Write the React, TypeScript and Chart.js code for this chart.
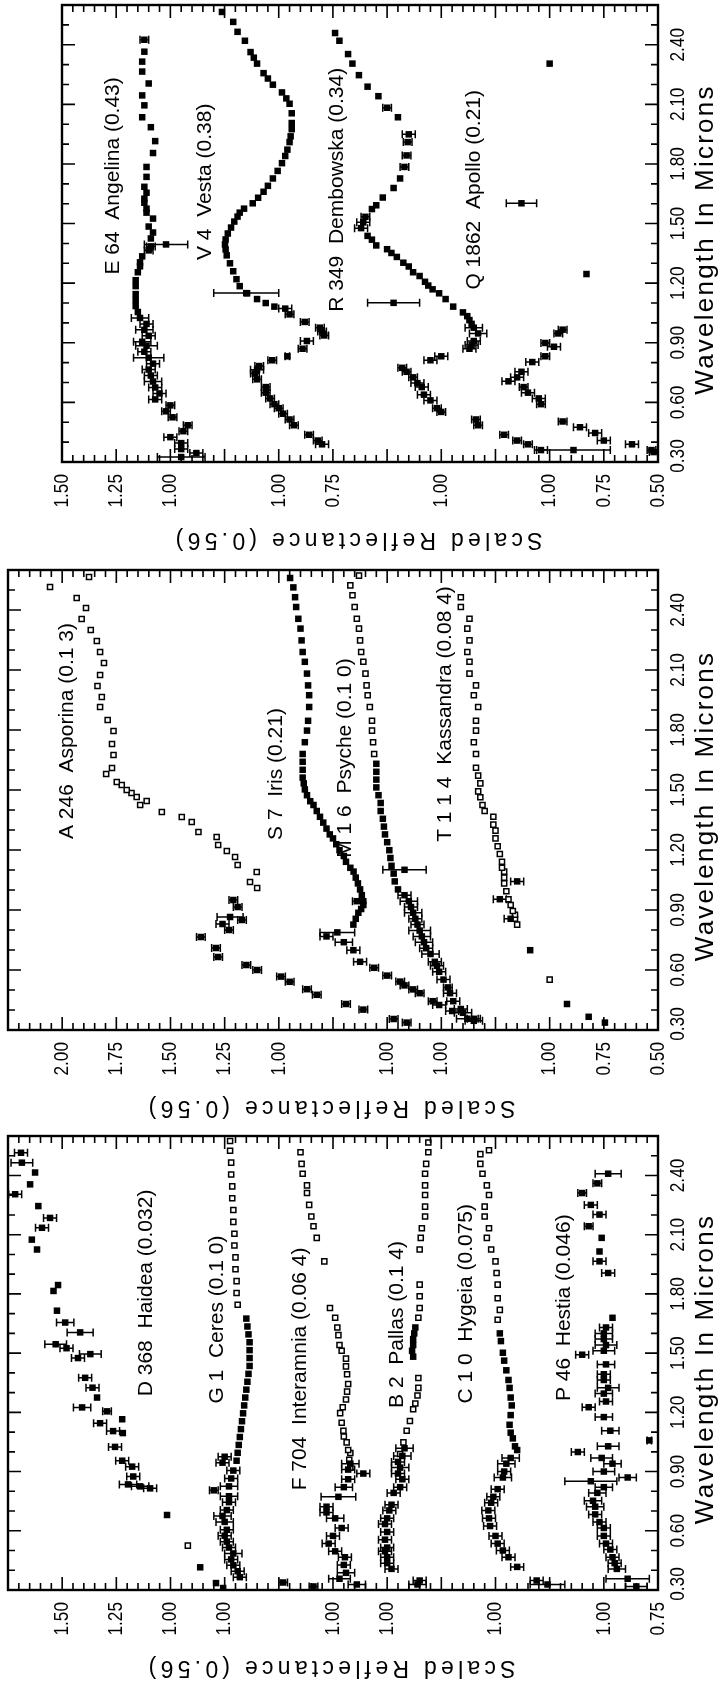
import React, { useEffect, useRef } from "react";
import { Chart, registerables } from "chart.js";

Chart.register(...registerables);

// [wavelength (microns), scaled reflectance, error half-width]
type Pt = number[];

// ---------- axis ticks / labels ----------
const wavelengthTickValues = [0.3, 0.6, 0.9, 1.2, 1.5, 1.8, 2.1, 2.4];
const wavelengthTickLabels = ["0.30", "0.60", "0.90", "1.20", "1.50", "1.80", "2.10", "2.40"];

const panel1TickValues = [0.5, 0.75, 1.0, 1.5, 2.0, 2.25, 2.75, 3.0, 3.25];
const panel1TickLabels = ["0.50", "0.75", "1.00", "1.00", "0.75", "1.00", "1.00", "1.25", "1.50"];
const panel2TickValues = [0.5, 0.75, 1.0, 1.5, 1.75, 2.25, 2.5, 2.75, 3.0, 3.25];
const panel2TickLabels = ["0.50", "0.75", "1.00", "1.00", "1.00", "1.00", "1.25", "1.50", "1.75", "2.00"];
const panel3TickValues = [0.75, 1.0, 1.5, 2.0, 2.25, 2.75, 3.0, 3.25, 3.5];
const panel3TickLabels = ["0.75", "1.00", "1.00", "1.00", "1.00", "1.00", "1.00", "1.25", "1.50"];

// ---------- panel 1 ----------
const angelinaVis: Pt[] = [
  [0.325, 0.95, 0.11], [0.345, 0.88, 0.03], [0.365, 0.95, 0.03], [0.395, 0.95, 0.03], [0.425, 1.00, 0.03],
  [0.455, 0.94, 0.02], [0.485, 0.92, 0.02], [0.525, 0.99, 0.02], [0.555, 1.02, 0.02], [0.585, 1.00, 0.02],
  [0.615, 1.07, 0.03], [0.645, 1.05, 0.03], [0.675, 1.07, 0.03], [0.705, 1.08, 0.04], [0.735, 1.09, 0.03],
  [0.765, 1.10, 0.03], [0.795, 1.08, 0.03], [0.825, 1.10, 0.07], [0.855, 1.12, 0.03], [0.885, 1.11, 0.05],
  [0.905, 1.13, 0.04], [0.935, 1.10, 0.03], [0.965, 1.12, 0.04], [0.995, 1.11, 0.03], [1.025, 1.14, 0.04],
];
const angelinaIr: Pt[] = [
  [1.055, 1.15], [1.085, 1.16], [1.115, 1.16], [1.145, 1.16], [1.185, 1.16], [1.215, 1.16], [1.255, 1.15],
  [1.285, 1.14], [1.305, 1.14], [1.335, 1.13], [1.365, 1.10, 0.02], [1.385, 1.09, 0.02], [1.395, 1.02, 0.1],
  [1.425, 1.09], [1.455, 1.08], [1.485, 1.10], [1.525, 1.08], [1.555, 1.11], [1.575, 1.11], [1.605, 1.12],
  [1.625, 1.12], [1.655, 1.11], [1.685, 1.12], [1.735, 1.11], [1.785, 1.11], [1.855, 1.08], [1.915, 1.07],
  [1.985, 1.09], [2.035, 1.13], [2.095, 1.12], [2.145, 1.13], [2.205, 1.10], [2.265, 1.13], [2.315, 1.13],
  [2.365, 1.12], [2.425, 1.12, 0.02],
];
const vestaVis: Pt[] = [
  [0.389, 0.80, 0.03], [0.408, 0.82, 0.02], [0.437, 0.86, 0.02], [0.485, 0.93, 0.02], [0.514, 0.95, 0.02],
  [0.543, 0.98, 0.02], [0.571, 1.00, 0.02], [0.591, 1.02, 0.02], [0.620, 1.04, 0.02], [0.649, 1.06, 0.02],
  [0.677, 1.06, 0.02], [0.716, 1.10, 0.02], [0.745, 1.11, 0.02], [0.764, 1.10, 0.03], [0.783, 1.09, 0.02],
  [0.812, 1.03, 0.02], [0.832, 0.96, 0.01], [0.870, 0.89, 0.02], [0.909, 0.87, 0.03], [0.937, 0.79, 0.02],
  [0.957, 0.80, 0.02], [0.976, 0.81, 0.02], [1.005, 0.88, 0.02], [1.043, 0.95, 0.02], [1.072, 0.97, 0.03],
  [1.15, 1.15, 0.15],
];
const vestaIr: Pt[] = [
  [1.082, 1.02], [1.10, 1.06], [1.12, 1.10], [1.149, 1.146], [1.185, 1.18], [1.22, 1.195], [1.26, 1.21],
  [1.30, 1.225], [1.34, 1.24], [1.37, 1.245], [1.395, 1.248], [1.42, 1.245], [1.45, 1.235], [1.48, 1.22],
  [1.51, 1.205], [1.535, 1.19], [1.555, 1.18], [1.575, 1.16], [1.602, 1.12], [1.63, 1.095], [1.66, 1.07],
  [1.69, 1.05], [1.727, 1.027], [1.765, 1.005], [1.804, 0.985], [1.84, 0.97], [1.872, 0.96], [1.91, 0.95],
  [1.939, 0.945], [1.975, 0.94], [2.006, 0.94], [2.055, 0.94], [2.103, 0.95], [2.13, 0.965], [2.16, 0.985],
  [2.199, 1.027], [2.23, 1.05], [2.257, 1.07], [2.305, 1.10], [2.335, 1.115], [2.363, 1.13], [2.42, 1.156],
  [2.465, 1.19], [2.515, 1.21], [2.565, 1.262],
];
const dembowskaVis: Pt[] = [
  [0.36, 0.54, 0.03], [0.389, 0.60, 0.02], [0.408, 0.65, 0.02], [0.437, 0.71, 0.02], [0.485, 0.83, 0.02],
  [0.514, 0.84, 0.02], [0.552, 1.00, 0.02], [0.571, 1.02, 0.02], [0.61, 1.05, 0.03], [0.639, 1.08, 0.03],
  [0.677, 1.09, 0.03], [0.697, 1.11, 0.03], [0.726, 1.13, 0.02], [0.754, 1.16, 0.02], [0.774, 1.18, 0.02],
  [0.812, 1.05, 0.03], [0.832, 1.00, 0.03], [0.870, 0.87, 0.03], [0.889, 0.86, 0.03], [0.909, 0.85, 0.03],
  [0.947, 0.83, 0.04], [0.976, 0.85, 0.04],
];
const dembowskaIr: Pt[] = [
  [0.995, 0.86], [1.014, 0.87], [1.034, 0.88], [1.053, 0.90], [1.082, 0.945], [1.101, 1.22, 0.12], [1.12, 0.98],
  [1.149, 1.01], [1.169, 1.04], [1.188, 1.06], [1.207, 1.075], [1.236, 1.10], [1.255, 1.13], [1.284, 1.15],
  [1.303, 1.175], [1.332, 1.205], [1.352, 1.23], [1.371, 1.25], [1.39, 1.30], [1.419, 1.32], [1.438, 1.34],
  [1.477, 1.37, 0.03], [1.506, 1.36, 0.03], [1.534, 1.35, 0.02], [1.573, 1.32], [1.592, 1.30], [1.631, 1.27],
  [1.679, 1.22], [1.727, 1.19], [1.785, 1.17, 0.02], [1.843, 1.16, 0.02], [1.91, 1.155, 0.02], [1.949, 1.15, 0.03],
  [2.035, 1.20], [2.083, 1.25, 0.02], [2.141, 1.29], [2.189, 1.34], [2.247, 1.38], [2.305, 1.41], [2.353, 1.43],
  [2.42, 1.47], [2.459, 1.49],
];
const apolloVis: Pt[] = [
  [0.35, 0.52, 0.02], [0.36, 0.53, 0.02], [0.36, 0.89, 0.17], [0.389, 0.62, 0.03], [0.408, 0.75, 0.03],
  [0.446, 0.79, 0.03], [0.475, 0.86, 0.03], [0.504, 0.94, 0.02], [0.591, 1.04, 0.02], [0.62, 1.05, 0.03],
  [0.649, 1.10, 0.03], [0.677, 1.12, 0.02], [0.706, 1.19, 0.03], [0.726, 1.15, 0.03], [0.754, 1.13, 0.03],
  [0.803, 1.08, 0.03], [0.832, 1.02, 0.02], [0.88, 0.98, 0.03], [0.899, 1.02, 0.02], [0.947, 0.96, 0.02],
  [0.966, 0.94, 0.02],
];
const apolloIr: Pt[] = [[1.246, 0.83], [1.602, 1.13, 0.07], [2.305, 1.00]];

// ---------- panel 2 ----------
const asporinaVis: Pt[] = [
  [0.337, 0.41, 0.02], [0.355, 0.47, 0.02], [0.402, 0.61, 0.02], [0.43, 0.69, 0.02], [0.476, 0.825, 0.02],
  [0.504, 0.87, 0.02], [0.541, 0.95, 0.02], [0.567, 0.99, 0.02], [0.60, 1.10, 0.02], [0.625, 1.15, 0.02],
  [0.665, 1.28, 0.02], [0.71, 1.29, 0.02], [0.765, 1.36, 0.02], [0.80, 1.23, 0.02], [0.83, 1.26, 0.03],
  [0.85, 1.17, 0.02], [0.865, 1.225, 0.06], [0.915, 1.19, 0.02], [0.95, 1.21, 0.02],
];
const asporinaIr: Pt[] = [
  [1.01, 1.10], [1.04, 1.133], [1.09, 1.102], [1.125, 1.19], [1.165, 1.202], [1.195, 1.24], [1.225, 1.28],
  [1.265, 1.287], [1.29, 1.371], [1.34, 1.402], [1.365, 1.448], [1.39, 1.54], [1.425, 1.64], [1.445, 1.61],
  [1.465, 1.656], [1.485, 1.68], [1.50, 1.702], [1.525, 1.725], [1.54, 1.748], [1.58, 1.797], [1.61, 1.77],
  [1.675, 1.763], [1.73, 1.77], [1.795, 1.763], [1.85, 1.79], [1.915, 1.825], [1.965, 1.817], [2.02, 1.837],
  [2.075, 1.825], [2.135, 1.807], [2.19, 1.825], [2.245, 1.84], [2.30, 1.868], [2.355, 1.91], [2.41, 1.89],
  [2.46, 1.933], [2.515, 2.056], [2.565, 1.876],
];
const irisVis: Pt[] = [
  [0.356, 0.60, 0.03], [0.395, 0.70, 0.03], [0.425, 0.76, 0.03], [0.444, 0.79, 0.02], [0.484, 0.85, 0.02],
  [0.503, 0.88, 0.02], [0.523, 0.92, 0.02], [0.542, 0.94, 0.02], [0.572, 1.00, 0.02], [0.611, 1.06, 0.02],
  [0.641, 1.125, 0.03], [0.699, 1.156, 0.03], [0.739, 1.20, 0.04], [0.768, 1.28, 0.03], [0.788, 1.23, 0.08],
  [0.944, 1.14, 0.02],
];
const irisIr: Pt[] = [
  [0.827, 1.156], [0.856, 1.145], [0.886, 1.133], [0.905, 1.12], [0.925, 1.11], [0.944, 1.11], [0.974, 1.117],
  [1.003, 1.125], [1.033, 1.135], [1.062, 1.145], [1.092, 1.155], [1.111, 1.17], [1.141, 1.19], [1.17, 1.20],
  [1.199, 1.22], [1.229, 1.235], [1.258, 1.25], [1.278, 1.265], [1.307, 1.28], [1.337, 1.295], [1.366, 1.31],
  [1.395, 1.325], [1.425, 1.34], [1.444, 1.355], [1.474, 1.37], [1.503, 1.38], [1.533, 1.385], [1.562, 1.39],
  [1.601, 1.39], [1.641, 1.39], [1.68, 1.39], [1.739, 1.38], [1.797, 1.37], [1.846, 1.365], [1.915, 1.36],
  [1.974, 1.36], [2.023, 1.365], [2.082, 1.37], [2.141, 1.38], [2.19, 1.39], [2.248, 1.395], [2.307, 1.40],
  [2.356, 1.41], [2.415, 1.42], [2.464, 1.425], [2.513, 1.433], [2.56, 1.448],
];
const psycheVis: Pt[] = [
  [0.346, 0.85, 0.04], [0.356, 0.88, 0.05], [0.386, 0.90, 0.04], [0.405, 0.91, 0.03], [0.444, 0.945, 0.03],
  [0.484, 0.96, 0.03], [0.513, 0.97, 0.02], [0.552, 0.99, 0.03], [0.591, 1.01, 0.03], [0.621, 1.02, 0.03],
  [0.641, 1.03, 0.03], [0.68, 1.05, 0.04], [0.709, 1.07, 0.03], [0.739, 1.08, 0.04], [0.768, 1.09, 0.04],
  [0.797, 1.10, 0.05], [0.827, 1.11, 0.03], [0.856, 1.12, 0.03], [0.886, 1.13, 0.04], [0.915, 1.14, 0.03],
  [0.944, 1.15, 0.04], [0.974, 1.17, 0.03], [1.101, 1.17, 0.1],
];
const psycheIrFilled: Pt[] = [
  [1.003, 1.20], [1.043, 1.215], [1.082, 1.22], [1.121, 1.23], [1.16, 1.235], [1.199, 1.24], [1.239, 1.25],
  [1.278, 1.26], [1.317, 1.265], [1.356, 1.27], [1.395, 1.28], [1.435, 1.28], [1.474, 1.29], [1.513, 1.30],
  [1.552, 1.30], [1.591, 1.30], [1.631, 1.30],
];
const psycheIrOpen: Pt[] = [
  [1.68, 1.31], [1.739, 1.315], [1.797, 1.32], [1.846, 1.32], [1.915, 1.33], [1.974, 1.34], [2.023, 1.345],
  [2.082, 1.35], [2.141, 1.36], [2.19, 1.37], [2.248, 1.375], [2.307, 1.38], [2.356, 1.39], [2.415, 1.40],
  [2.474, 1.41], [2.523, 1.42], [2.572, 1.38],
];
const kassandraVis: Pt[] = [
  [0.337, 0.745], [0.366, 0.82], [0.43, 0.92], [0.699, 1.09], [0.856, 1.18, 0.03], [0.954, 1.23, 0.03],
  [1.043, 1.15, 0.03],
];
const kassandraIrOpen: Pt[] = [
  [0.552, 1.00], [0.827, 1.15], [0.856, 1.16], [0.876, 1.16], [0.895, 1.17], [0.925, 1.18], [0.954, 1.19],
  [0.994, 1.20], [1.033, 1.21], [1.062, 1.21], [1.092, 1.21], [1.111, 1.22], [1.141, 1.22], [1.18, 1.23],
  [1.219, 1.24], [1.258, 1.25], [1.297, 1.25], [1.327, 1.26], [1.366, 1.26], [1.395, 1.30], [1.425, 1.31],
  [1.464, 1.32], [1.493, 1.33], [1.533, 1.32], [1.572, 1.33], [1.611, 1.34], [1.68, 1.34], [1.739, 1.35],
  [1.797, 1.34], [1.846, 1.34], [1.915, 1.33], [1.974, 1.35], [2.023, 1.34], [2.082, 1.37], [2.141, 1.37],
  [2.19, 1.38], [2.248, 1.37], [2.307, 1.38], [2.356, 1.37], [2.415, 1.41], [2.464, 1.41],
];

// ---------- panel 3 ----------
const haideaPts: Pt[] = [
  [0.31, 0.757], [0.335, 0.79], [0.415, 0.863], [0.68, 1.016], [0.815, 1.094, 0.03], [0.825, 1.14, 0.04],
  [0.835, 1.196, 0.04], [0.875, 1.172, 0.03], [0.925, 1.177, 0.03], [0.955, 1.223, 0.03], [1.025, 1.256, 0.03],
  [1.095, 1.22], [1.105, 1.265, 0.03], [1.145, 1.325, 0.03], [1.165, 1.223], [1.205, 1.293, 0.02],
  [1.225, 1.408, 0.04], [1.275, 1.339], [1.325, 1.36, 0.03], [1.375, 1.394, 0.03], [1.475, 1.427, 0.03],
  [1.495, 1.37, 0.05], [1.525, 1.48, 0.03], [1.545, 1.53, 0.05], [1.605, 1.417, 0.06], [1.655, 1.486, 0.04],
  [1.715, 1.524], [1.815, 1.54], [1.845, 1.519], [2.025, 1.616], [2.075, 1.64], [2.135, 1.593, 0.03],
  [2.185, 1.556, 0.03], [2.245, 1.61], [2.305, 1.717, 0.03], [2.355, 1.648], [2.415, 1.625], [2.465, 1.686, 0.05],
  [2.515, 1.69, 0.03],
];
const haideaOpen: Pt[] = [[0.525, 0.92]];
const ceresVis: Pt[] = [
  [0.318, 0.59, 0.02], [0.338, 0.73, 0.02], [0.365, 0.93, 0.03], [0.395, 0.94, 0.03], [0.425, 0.96, 0.03],
  [0.455, 0.97, 0.03], [0.485, 0.96, 0.04], [0.515, 0.98, 0.03], [0.545, 0.99, 0.03], [0.575, 1.00, 0.03],
  [0.605, 0.99, 0.03], [0.645, 1.00, 0.04], [0.675, 1.01, 0.04], [0.705, 0.99, 0.03], [0.745, 0.98, 0.03],
  [0.775, 0.98, 0.04], [0.805, 1.05, 0.02], [0.825, 0.98, 0.04], [0.865, 0.97, 0.03], [0.905, 0.96, 0.03],
  [0.945, 1.01, 0.03], [0.975, 1.00, 0.03],
];
const ceresIrFilled: Pt[] = [
  [0.955, 0.945], [0.995, 0.94], [1.035, 0.935], [1.075, 0.93], [1.115, 0.925], [1.155, 0.92], [1.195, 0.915],
  [1.235, 0.91], [1.275, 0.905], [1.315, 0.90], [1.355, 0.895], [1.395, 0.89], [1.435, 0.885], [1.475, 0.885],
  [1.515, 0.885], [1.555, 0.885], [1.595, 0.89], [1.635, 0.895], [1.675, 0.90],
];
const ceresIrOpen: Pt[] = [
  [1.745, 0.94], [1.805, 0.945], [1.865, 0.945], [1.925, 0.95], [1.985, 0.95], [2.045, 0.955], [2.105, 0.955],
  [2.165, 0.96], [2.225, 0.96], [2.285, 0.965], [2.345, 0.965], [2.405, 0.97], [2.465, 0.97], [2.525, 0.975],
  [2.575, 0.975],
];
const interamniaVis: Pt[] = [
  [0.328, 0.89, 0.04], [0.357, 0.97, 0.05], [0.387, 0.94, 0.04], [0.427, 0.95, 0.03], [0.466, 0.945, 0.03],
  [0.496, 0.99, 0.03], [0.535, 1.02, 0.03], [0.574, 1.00, 0.03], [0.614, 0.96, 0.03], [0.663, 0.99, 0.04],
  [0.693, 1.03, 0.03], [0.722, 1.03, 0.03], [0.772, 0.975, 0.08], [0.821, 0.95, 0.04], [0.861, 0.93, 0.03],
  [0.89, 0.86, 0.03], [0.91, 0.93, 0.03], [0.94, 0.92, 0.04],
];
const interamniaIrOpen: Pt[] = [
  [0.92, 0.92], [0.959, 0.925], [0.994, 0.92], [1.009, 0.93], [1.048, 0.937], [1.078, 0.95], [1.107, 0.952],
  [1.147, 0.96], [1.196, 0.967], [1.226, 0.955], [1.265, 0.94], [1.305, 0.935], [1.344, 0.93], [1.393, 0.935],
  [1.433, 0.94], [1.472, 0.94], [1.512, 0.96], [1.541, 0.97], [1.591, 0.975], [1.63, 0.98], [1.679, 0.99],
  [1.729, 1.014], [1.965, 1.04], [2.084, 1.075], [2.143, 1.09], [2.192, 1.10], [2.251, 1.11], [2.311, 1.12],
  [2.35, 1.12], [2.409, 1.14], [2.459, 1.145], [2.518, 1.15],
];
const pallasVis: Pt[] = [
  [0.328, 0.86, 0.04], [0.348, 0.85, 0.03], [0.407, 0.98, 0.03], [0.436, 1.00, 0.03], [0.466, 1.00, 0.03],
  [0.496, 1.01, 0.03], [0.515, 1.00, 0.03], [0.555, 1.01, 0.03], [0.594, 1.00, 0.03], [0.634, 1.01, 0.03],
  [0.663, 1.00, 0.03], [0.703, 0.99, 0.03], [0.732, 0.98, 0.03], [0.792, 0.97, 0.03], [0.821, 0.94, 0.03],
  [0.861, 0.93, 0.03], [0.89, 0.95, 0.03], [0.92, 0.94, 0.04], [0.949, 0.95, 0.03], [0.979, 0.93, 0.04],
  [1.018, 0.92, 0.04],
];
const pallasIrFilled: Pt[] = [
  [1.482, 0.88], [1.512, 0.885], [1.541, 0.88], [1.571, 0.88], [1.60, 0.875], [1.63, 0.87],
];
const pallasIrOpen: Pt[] = [
  [0.989, 0.94], [1.048, 0.925], [1.107, 0.91], [1.156, 0.895], [1.216, 0.88], [1.245, 0.87], [1.285, 0.86],
  [1.324, 0.856], [1.374, 0.856], [1.679, 0.856], [1.729, 0.85], [1.788, 0.85], [1.847, 0.85], [2.025, 0.85],
  [2.084, 0.845], [2.133, 0.84], [2.192, 0.825], [2.242, 0.825], [2.301, 0.825], [2.35, 0.825], [2.409, 0.825],
  [2.459, 0.82], [2.518, 0.81], [2.567, 0.81],
];
const hygeiaVis: Pt[] = [
  [0.328, 0.76, 0.08], [0.348, 0.81, 0.03], [0.417, 0.90, 0.03], [0.466, 0.94, 0.03], [0.50, 0.966, 0.03],
  [0.535, 0.99, 0.03], [0.574, 1.00, 0.03], [0.624, 1.025, 0.03], [0.663, 1.03, 0.03], [0.703, 1.033, 0.03],
  [0.742, 1.02, 0.03], [0.772, 1.01, 0.03], [0.811, 0.99, 0.03], [0.87, 0.966, 0.04], [0.90, 0.96, 0.03],
  [0.94, 0.95, 0.04], [0.969, 0.93, 0.04],
];
const hygeiaIrFilled: Pt[] = [
  [1.009, 0.90], [1.028, 0.91], [1.068, 0.92], [1.097, 0.93], [1.137, 0.935], [1.186, 0.93], [1.235, 0.925],
  [1.275, 0.93], [1.324, 0.935], [1.364, 0.94], [1.413, 0.95], [1.462, 0.96], [1.502, 0.966], [1.561, 0.975],
  [1.60, 0.98],
];
const hygeiaIrOpen: Pt[] = [
  [1.669, 0.99], [1.719, 0.98], [1.778, 0.99], [1.847, 0.99], [1.906, 0.995], [1.965, 1.00], [2.025, 1.02],
  [2.084, 1.04], [2.133, 1.03], [2.192, 1.05], [2.242, 1.05], [2.301, 1.03], [2.35, 1.04], [2.409, 1.06],
  [2.459, 1.07], [2.508, 1.07], [2.528, 1.03],
];
const hestiaVis: Pt[] = [
  [0.318, 0.85, 0.05], [0.357, 0.89, 0.1], [0.407, 0.94, 0.04], [0.436, 0.95, 0.03], [0.466, 0.96, 0.03],
  [0.505, 0.97, 0.03], [0.535, 0.99, 0.03], [0.574, 1.00, 0.03], [0.614, 1.00, 0.03], [0.644, 1.02, 0.03],
  [0.683, 1.04, 0.03], [0.722, 1.04, 0.04], [0.752, 1.05, 0.04], [0.792, 1.03, 0.04], [0.821, 1.00, 0.04],
  [0.851, 1.06, 0.12], [0.87, 0.89, 0.04], [0.90, 1.00, 0.05], [0.94, 0.96, 0.04], [0.969, 1.01, 0.05],
  [0.999, 1.12, 0.03], [1.028, 0.98, 0.05], [1.058, 0.79, 0.01], [1.107, 0.97, 0.04],
];
const hestiaIr: Pt[] = [
  [1.176, 1.00, 0.04], [1.226, 1.07, 0.03], [1.255, 0.99, 0.03], [1.295, 1.00, 0.04], [1.324, 0.98, 0.05],
  [1.364, 1.00, 0.03], [1.393, 1.00, 0.03], [1.443, 0.99, 0.04], [1.492, 1.10, 0.03], [1.512, 1.00, 0.05],
  [1.541, 0.99, 0.05], [1.571, 1.00, 0.04], [1.60, 1.00, 0.04], [1.63, 0.99, 0.03], [1.679, 0.96],
  [1.906, 0.98, 0.03], [1.965, 1.02, 0.03], [2.015, 1.02], [2.084, 1.01], [2.143, 1.07, 0.02], [2.202, 1.02, 0.03],
  [2.251, 1.06, 0.03], [2.311, 1.10, 0.02], [2.36, 1.03, 0.02], [2.409, 0.98, 0.06],
];

// ---------- layout / configuration ----------
const FONT = "'Liberation Sans', Arial, Helvetica, sans-serif";
const WL_MIN = 0.3;
const WL_MAX = 2.6;

type Series = { pts: Pt[]; open?: boolean };
type Spectrum = { label: string; offset: number; at: number[]; series: Series[] };
type PanelCfg = {
  top: number; height: number;
  pad: { left: number; right: number; top: number; bottom: number };
  vMin: number; vMax: number; tickValues: number[]; tickLabels: string[];
  titleX: number; spectra: Spectrum[];
};

const panels: PanelCfg[] = [
  {
    top: 0, height: 560, pad: { left: 62, right: 61, top: 5, bottom: 98 },
    vMin: 0.5, vMax: 3.25, tickValues: panel1TickValues, tickLabels: panel1TickLabels, titleX: 357,
    spectra: [
      { label: "E 64  Angelina (0.43)", offset: 1.75, at: [3.015, 1.74], series: [{ pts: angelinaVis }, { pts: angelinaIr }] },
      { label: "V 4  Vesta (0.38)", offset: 1.25, at: [2.59, 1.71], series: [{ pts: vestaVis }, { pts: vestaIr }] },
      { label: "R 349  Dembowska (0.34)", offset: 0.5, at: [1.98, 1.67], series: [{ pts: dembowskaVis }, { pts: dembowskaIr }] },
      { label: "Q 1862  Apollo (0.21)", offset: 0, at: [1.35, 1.67], series: [{ pts: apolloVis }, { pts: apolloIr }] },
    ],
  },
  {
    top: 560, height: 570, pad: { left: 8, right: 61, top: 10, bottom: 100 },
    vMin: 0.5, vMax: 3.5, tickValues: panel2TickValues, tickLabels: panel2TickLabels, titleX: 330,
    spectra: [
      { label: "A 246  Asporina (0.1 3)", offset: 1.25, at: [3.227, 1.795], series: [{ pts: asporinaVis }, { pts: asporinaIr, open: true }] },
      { label: "S 7  Iris (0.21)", offset: 0.75, at: [2.263, 1.58], series: [{ pts: irisVis }, { pts: irisIr }] },
      { label: "M 1 6  Psyche (0.1 0)", offset: 0.5, at: [1.944, 1.66], series: [{ pts: psycheVis }, { pts: psycheIrFilled }, { pts: psycheIrOpen, open: true }] },
      { label: "T 1 1 4  Kassandra (0.08 4)", offset: 0, at: [1.483, 1.88], series: [{ pts: kassandraVis }, { pts: kassandraIrOpen, open: true }] },
    ],
  },
  {
    top: 1130, height: 560, pad: { left: 8, right: 61, top: 6, bottom: 100 },
    vMin: 0.75, vMax: 3.75, tickValues: panel3TickValues, tickLabels: panel3TickLabels, titleX: 330,
    spectra: [
      { label: "D 368  Haidea (0.032)", offset: 2.0, at: [3.113, 1.805], series: [{ pts: haideaPts }, { pts: haideaOpen, open: true }] },
      { label: "G 1  Ceres (0.1 0)", offset: 1.75, at: [2.785, 1.67], series: [{ pts: ceresVis }, { pts: ceresIrFilled }, { pts: ceresIrOpen, open: true }] },
      { label: "F 704  Interamnia (0.06 4)", offset: 1.25, at: [2.402, 1.42], series: [{ pts: interamniaVis }, { pts: interamniaIrOpen, open: true }] },
      { label: "B 2  Pallas (0.1 4)", offset: 1.0, at: [1.954, 1.645], series: [{ pts: pallasVis }, { pts: pallasIrFilled }, { pts: pallasIrOpen, open: true }] },
      { label: "C 1 0  Hygeia (0.075)", offset: 0.5, at: [1.636, 1.75], series: [{ pts: hygeiaVis }, { pts: hygeiaIrFilled }, { pts: hygeiaIrOpen, open: true }] },
      { label: "P 46  Hestia (0.046)", offset: 0, at: [1.184, 1.73], series: [{ pts: hestiaVis }, { pts: hestiaIr }] },
    ],
  },
];

function rotText(ctx: CanvasRenderingContext2D, text: string, x: number, y: number, angle: number,
  font: string, align: CanvasTextAlign, scaleX = 1, targetWidth = 0) {
  ctx.save();
  ctx.translate(x, y);
  ctx.rotate(angle);
  ctx.scale(scaleX, 1);
  ctx.font = font;
  ctx.textAlign = align;
  ctx.textBaseline = "middle";
  if (targetWidth > 0) {
    const natural = ctx.measureText(text).width;
    const sp = (targetWidth - natural) / Math.max(1, text.length - 1);
    (ctx as any).letterSpacing = sp.toFixed(2) + "px";
  }
  ctx.fillText(text, 0, 0);
  ctx.restore();
}

function decorPlugin(cfg: PanelCfg) {
  return {
    id: "decor",
    beforeDatasetsDraw(chart: any) {
      const ctx: CanvasRenderingContext2D = chart.ctx;
      const a = chart.chartArea;
      const xs = chart.scales.x, ys = chart.scales.y;
      ctx.save();
      ctx.beginPath();
      ctx.rect(a.left, a.top, a.right - a.left, a.bottom - a.top);
      ctx.clip();
      ctx.strokeStyle = "#000";
      ctx.lineWidth = 1.5;
      chart.data.datasets.forEach((ds: any) => {
        ds.data.forEach((p: any, i: number) => {
          const e = ds.errs[i];
          if (!e) return;
          const y = ys.getPixelForValue(p.y);
          const x1 = xs.getPixelForValue(p.x - e);
          const x2 = xs.getPixelForValue(p.x + e);
          ctx.beginPath();
          ctx.moveTo(x1, y); ctx.lineTo(x2, y);
          ctx.moveTo(x1, y - 4); ctx.lineTo(x1, y + 4);
          ctx.moveTo(x2, y - 4); ctx.lineTo(x2, y + 4);
          ctx.stroke();
        });
      });
      ctx.restore();
    },
    afterDraw(chart: any) {
      const ctx: CanvasRenderingContext2D = chart.ctx;
      const a = chart.chartArea;
      const xs = chart.scales.x, ys = chart.scales.y;
      ctx.save();
      ctx.strokeStyle = "#000";
      ctx.fillStyle = "#000";
      ctx.lineWidth = 2.4;
      ctx.strokeRect(a.left, a.top, a.right - a.left, a.bottom - a.top);
      ctx.lineWidth = 1.6;
      ctx.beginPath();
      for (let k = Math.round(cfg.vMin * 20); k <= Math.round(cfg.vMax * 20); k++) {
        const x = xs.getPixelForValue(k / 20);
        const len = k % 5 === 0 ? 13 : 7;
        ctx.moveTo(x, a.bottom); ctx.lineTo(x, a.bottom - len);
        ctx.moveTo(x, a.top); ctx.lineTo(x, a.top + len);
      }
      for (let k = 3; k <= 25; k++) {
        const y = ys.getPixelForValue(k / 10);
        const len = k % 3 === 0 ? 13 : 7;
        ctx.moveTo(a.right, y); ctx.lineTo(a.right - len, y);
        ctx.moveTo(a.left, y); ctx.lineTo(a.left + len, y);
      }
      ctx.stroke();
      const tickFont = "21px " + FONT;
      cfg.tickValues.forEach((v, i) => {
        rotText(ctx, cfg.tickLabels[i], xs.getPixelForValue(v), a.bottom + 12, -Math.PI / 2, tickFont, "right", 0.82);
      });
      wavelengthTickValues.forEach((w, i) => {
        const y = Math.min(ys.getPixelForValue(w), a.bottom - 6);
        rotText(ctx, wavelengthTickLabels[i], a.right + 20, y, -Math.PI / 2, tickFont, "center", 0.82);
      });
      rotText(ctx, "Scaled Reflectance (0.56)", cfg.titleX, a.bottom + 77, Math.PI, "23px " + FONT, "center", 1, 367);
      rotText(ctx, "Wavelength In Microns", a.right + 48, (a.top + a.bottom) / 2 + 6, -Math.PI / 2, "26px " + FONT, "center", 1, 308);
      cfg.spectra.forEach((sp) => {
        rotText(ctx, sp.label, xs.getPixelForValue(sp.at[0]), ys.getPixelForValue(sp.at[1]), -Math.PI / 2, "21px " + FONT, "center");
      });
      ctx.restore();
    },
  };
}

function Panel({ cfg }: { cfg: PanelCfg }) {
  const ref = useRef<HTMLCanvasElement>(null);
  useEffect(() => {
    const canvas = ref.current;
    if (!canvas) return;
    const datasets: any[] = [];
    cfg.spectra.forEach((sp) => {
      sp.series.forEach((se) => {
        datasets.push({
          data: se.pts.map((p) => ({ x: p[1] + sp.offset, y: p[0] })),
          errs: se.pts.map((p) => p[2] || 0),
          pointStyle: "rect",
          pointRadius: se.open ? 3.6 : 4.6,
          pointBackgroundColor: se.open ? "#fff" : "#000",
          pointBorderColor: "#000",
          pointBorderWidth: se.open ? 1.5 : 0,
          showLine: false,
        });
      });
    });
    const chart = new Chart(canvas, {
      type: "scatter",
      data: { datasets },
      options: {
        responsive: false,
        animation: false,
        devicePixelRatio: 1,
        events: [],
        layout: { padding: cfg.pad },
        plugins: { legend: { display: false }, tooltip: { enabled: false } },
        scales: {
          x: { type: "linear", min: cfg.vMin, max: cfg.vMax, reverse: true, display: false },
          y: { type: "linear", min: WL_MIN, max: WL_MAX, display: false },
        },
      } as any,
      plugins: [decorPlugin(cfg) as any],
    });
    return () => chart.destroy();
  }, [cfg]);
  return (
    <canvas
      ref={ref}
      width={719}
      height={cfg.height}
      style={{ position: "absolute", left: 0, top: cfg.top, width: 719, height: cfg.height }}
    />
  );
}

export default function App() {
  return (
    <div style={{ position: "absolute", left: 0, top: 0, width: 719, height: 1690, background: "#fff" }}>
      {panels.map((p, i) => (
        <Panel key={i} cfg={p} />
      ))}
    </div>
  );
}
